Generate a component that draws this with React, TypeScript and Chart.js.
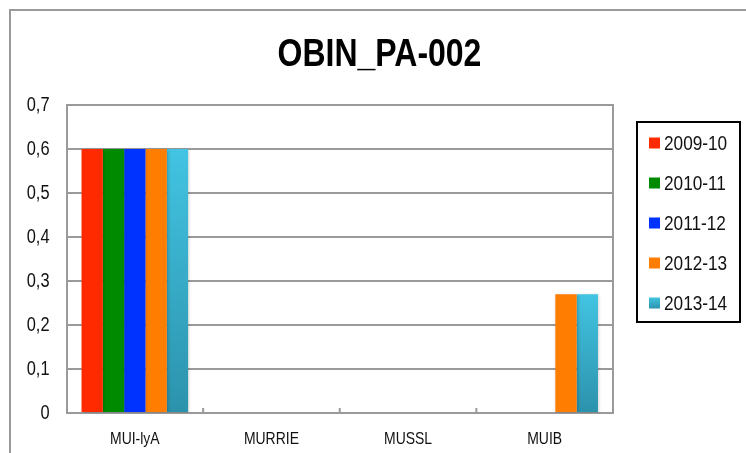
import React, { useEffect, useRef } from "react";
import { Chart, registerables } from "chart.js";

Chart.register(...registerables);

const categories = ["MUI-lyA", "MURRIE", "MUSSL", "MUIB"];
const seriesLabels = ["2009-10", "2010-11", "2011-12", "2012-13", "2013-14"];
const values2009 = [0.6, null, null, null];
const values2010 = [0.6, null, null, null];
const values2011 = [0.6, null, null, null];
const values2012 = [0.6, null, null, 0.27];
const values2013 = [0.6, null, null, 0.27];
const yTicks = [0, 0.1, 0.2, 0.3, 0.4, 0.5, 0.6, 0.7];
const titleText = "OBIN_PA-002";

const FONT = "'Liberation Sans', Arial, sans-serif";
const colors = ["#FF2A00", "#008A00", "#0033FF", "#FF7D00", "#3FC0DE"];
const NARROW = 0.82;

function cyanGradient(ctx: any) {
  const chart = ctx.chart;
  const area = chart.chartArea;
  if (!area || ctx.type !== "data") return "#3AB2CF";
  const yScale = chart.scales.y;
  const v = ctx.raw;
  if (v == null) return "#3AB2CF";
  const top = yScale.getPixelForValue(v);
  const bottom = yScale.getPixelForValue(0);
  const g = chart.ctx.createLinearGradient(0, top, 0, bottom);
  g.addColorStop(0, "#42C4E2");
  g.addColorStop(1, "#2C92AC");
  return g;
}

// Emulates an "Arial Narrow"-like face by condensing all text horizontally.
const condensePlugin = {
  id: "condense",
  beforeInit(chart: any) {
    const ctx = chart.ctx;
    const orig = ctx.fillText.bind(ctx);
    ctx.fillText = function (t: string, x: number, y: number, mw?: number) {
      const w = ctx.measureText(t).width * NARROW;
      const m = mw === undefined ? w : Math.min(mw, w);
      orig(t, x, y, m);
    };
  },
};

const framePlugin = {
  id: "frame",
  beforeDraw(chart: any) {
    const ctx = chart.ctx;
    ctx.save();
    ctx.strokeStyle = "#9a9a9a";
    ctx.lineWidth = 2;
    ctx.beginPath();
    ctx.moveTo(10, chart.height + 2);
    ctx.lineTo(10, 10);
    ctx.lineTo(chart.width + 2, 10);
    ctx.stroke();
    ctx.restore();
  },
  beforeDatasetsDraw(chart: any) {
    const ctx = chart.ctx;
    ctx.save();
    ctx.shadowColor = "rgba(0,0,0,0.22)";
    ctx.shadowBlur = 3;
    ctx.shadowOffsetX = 1;
    ctx.shadowOffsetY = 1;
  },
  afterDatasetsDraw(chart: any) {
    chart.ctx.restore();
  },
  afterDraw(chart: any) {
    const ctx = chart.ctx;
    const a = chart.chartArea;
    const xs = chart.scales.x;
    ctx.save();
    ctx.strokeStyle = "#9a9a9a";
    ctx.lineWidth = 2;
    ctx.beginPath();
    ctx.moveTo(a.right, a.top - 1);
    ctx.lineTo(a.right, a.bottom + 1);
    ctx.stroke();
    const n = chart.data.labels.length;
    for (let i = 1; i < n; i++) {
      const x = (xs.getPixelForValue(i - 1) + xs.getPixelForValue(i)) / 2;
      ctx.beginPath();
      ctx.moveTo(x, a.bottom);
      ctx.lineTo(x, a.bottom - 5);
      ctx.stroke();
    }
    ctx.restore();

    // legend
    const lx = 637, ly = 122, lw = 103, lh = 200;
    ctx.save();
    ctx.fillStyle = "#ffffff";
    ctx.fillRect(lx, ly, lw, lh);
    ctx.strokeStyle = "#000000";
    ctx.lineWidth = 2;
    ctx.strokeRect(lx, ly, lw, lh);
    ctx.font = `21px ${FONT}`;
    ctx.textBaseline = "middle";
    ctx.textAlign = "left";
    chart.data.datasets.forEach((ds: any, i: number) => {
      const cy = 143 + i * 40;
      if (i === 4) {
        const g = ctx.createLinearGradient(0, cy - 6, 0, cy + 6);
        g.addColorStop(0, "#42C4E2");
        g.addColorStop(1, "#2C92AC");
        ctx.fillStyle = g;
      } else {
        ctx.fillStyle = colors[i];
      }
      ctx.fillRect(649, cy - 5.5, 11, 11);
      ctx.fillStyle = "#111111";
      ctx.fillText(ds.label, 664, cy + 1);
    });
    ctx.restore();
  },
};

export default function App() {
  const ref = useRef<HTMLCanvasElement | null>(null);
  useEffect(() => {
    document.body.style.margin = "0";
    const seriesValues = [values2009, values2010, values2011, values2012, values2013];
    const chart = new Chart(ref.current as HTMLCanvasElement, {
      type: "bar",
      data: {
        labels: categories,
        datasets: seriesLabels.map((label, i) => ({
          label,
          data: seriesValues[i],
          backgroundColor: i === 4 ? cyanGradient : colors[i],
          borderWidth: 0,
          categoryPercentage: 0.78,
          barPercentage: 1,
        })),
      },
      options: {
        animation: false,
        responsive: false,
        devicePixelRatio: 1,
        layout: { padding: { left: 13, right: 0, top: 0, bottom: 0 } },
        plugins: {
          legend: { display: false },
          tooltip: { enabled: false },
          title: {
            display: true,
            text: titleText,
            color: "#000000",
            font: { family: FONT, size: 39, weight: "bold", lineHeight: 1.2 },
            padding: { top: 32, bottom: 26.2 },
          },
        },
        scales: {
          x: {
            grid: { display: false },
            border: { display: true, color: "#9a9a9a", width: 2 },
            ticks: {
              color: "#111111",
              font: { family: FONT, size: 17 },
              padding: 8,
              maxRotation: 0,
            },
            afterFit(scale: any) {
              scale.height = 40;
            },
          },
          y: {
            min: 0,
            max: 0.7,
            afterBuildTicks(scale: any) {
              scale.ticks = yTicks.map((v) => ({ value: v }));
            },
            grid: { color: "#9a9a9a", lineWidth: 2, drawTicks: false },
            border: { display: true, color: "#9a9a9a", width: 2 },
            ticks: {
              color: "#111111",
              font: { family: FONT, size: 20 },
              padding: 17,
              callback: (v: any) => (Number(v) === 0 ? "0" : Number(v).toFixed(1).replace(".", ",")),
            },
            afterFit(scale: any) {
              scale.width = 53.5;
            },
          },
          spacer: {
            type: "linear",
            position: "right",
            display: true,
            grid: { display: false },
            border: { display: false },
            ticks: { display: false },
            afterFit(scale: any) {
              scale.width = 133;
            },
          },
        },
      },
      plugins: [condensePlugin, framePlugin],
    });
    return () => chart.destroy();
  }, []);
  return (
    <div style={{ width: 746, height: 453 }}>
      <canvas ref={ref} width={746} height={453} style={{ display: "block" }} />
    </div>
  );
}
